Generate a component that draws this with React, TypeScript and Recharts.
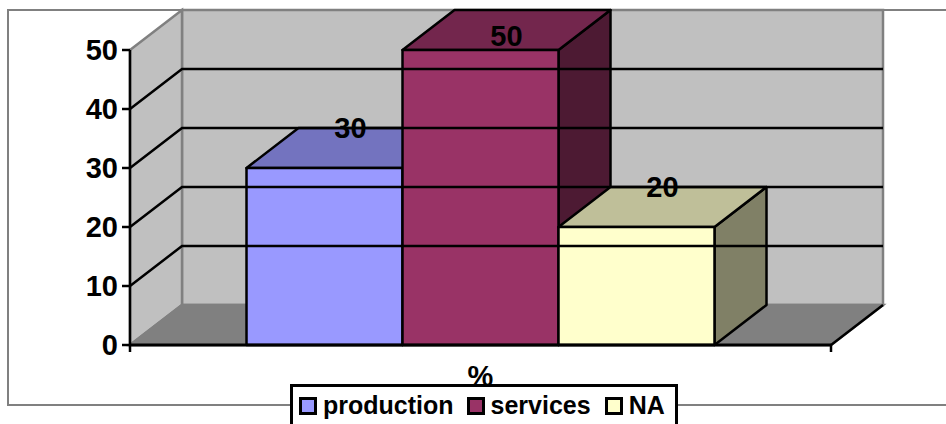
import React from "react";
import { Bar, BarChart, LabelList, Legend, ReferenceArea, ReferenceLine, XAxis, YAxis } from "recharts";

// Column chart with an oblique box projection, as office charts draw it.
const categories = ["%"];
const seriesNames = ["production", "services", "NA"];
const seriesValues = [30, 50, 20];
const seriesFronts = ["#9999ff", "#993366", "#ffffcc"];
const seriesTops = ["#7373bf", "#73264d", "#bfbf99"];
const seriesSides = ["#4d4d80", "#4d1a33", "#808066"];
const yTicks = [0, 10, 20, 30, 40, 50];
const innerGridValues = [10, 20, 30, 40];
const legendGaps = [13, 14, 0];

const DEPTH_X = 52;
const DEPTH_Y = -40;
const LABEL_MIN_Y = 36;
const AXIS_END_TICK = 7;
const FONT = "'Liberation Sans', Arial, sans-serif";
const WALL = "#c0c0c0";
const FLOOR = "#808080";
const EDGE = "#808080";

const rows = categories.map((name) => {
  const row: Record<string, string | number> = { name };
  seriesNames.forEach((s, i) => {
    row[s] = seriesValues[i];
  });
  return row;
});

const poly = (pts: number[][]) => pts.map((p) => p.join(",")).join(" ");

// Back wall, side wall and floor, spanned from the plot rectangle.
function Walls({ x, y, width, height }: any) {
  const l = x, r = x + width, t = y, b = y + height;
  const dx = DEPTH_X, dy = DEPTH_Y;
  return (
    <g>
      <polygon points={poly([[l + dx, t + dy], [r + dx, t + dy], [r + dx, b + dy], [l + dx, b + dy]])} fill={WALL} stroke={EDGE} strokeWidth={2.5} />
      <polygon points={poly([[l, t], [l + dx, t + dy], [l + dx, b + dy], [l, b]])} fill={WALL} stroke={EDGE} strokeWidth={2.5} />
      <polygon points={poly([[l, b], [l + dx, b + dy], [r + dx, b + dy], [r, b]])} fill={FLOOR} stroke={EDGE} strokeWidth={2.5} />
      <line x1={r} y1={b} x2={r + dx} y2={b + dy} stroke="#000" strokeWidth={2.5} />
      <line x1={l} y1={b} x2={l} y2={b + AXIS_END_TICK} stroke="#000" strokeWidth={2.5} />
      <line x1={r} y1={b} x2={r} y2={b + AXIS_END_TICK} stroke="#000" strokeWidth={2.5} />
    </g>
  );
}

// One gridline running along the side wall and across the back wall.
function GridRun({ x1, y1, x2, y2 }: any) {
  return (
    <polyline
      points={poly([[x1, y1], [x1 + DEPTH_X, y1 + DEPTH_Y], [x2 + DEPTH_X, y2 + DEPTH_Y]])}
      fill="none"
      stroke="#000"
      strokeWidth={2.5}
    />
  );
}

function Column3D({ x, y, width, height, index, seriesIndex }: any) {
  const i = seriesIndex ?? index;
  const dx = DEPTH_X, dy = DEPTH_Y;
  const common = { stroke: "#000", strokeWidth: 2.5, strokeLinejoin: "round" as const };
  return (
    <g>
      <polygon {...common} fill={seriesSides[i]} points={poly([[x + width, y], [x + width + dx, y + dy], [x + width + dx, y + height + dy], [x + width, y + height]])} />
      <polygon {...common} fill={seriesTops[i]} points={poly([[x, y], [x + dx, y + dy], [x + width + dx, y + dy], [x + width, y]])} />
      <rect {...common} x={x} y={y} width={width} height={height} fill={seriesFronts[i]} />
    </g>
  );
}

function ValueLabel({ x, y, width, value }: any) {
  const cy = Math.max(y + DEPTH_Y, LABEL_MIN_Y);
  return (
    <text
      x={x + width / 2 + DEPTH_X / 2}
      y={cy}
      dy="0.36em"
      textAnchor="middle"
      fontFamily={FONT}
      fontWeight={700}
      fontSize={29}
      fill="#000"
    >
      {value}
    </text>
  );
}

function LegendBox() {
  return (
    <div
      style={{
        position: "absolute",
        left: 290,
        top: 384,
        width: 388,
        height: 46,
        boxSizing: "border-box",
        border: "3px solid #000",
        background: "#fff",
        display: "flex",
        alignItems: "flex-start",
        fontFamily: FONT,
        fontWeight: 700,
        fontSize: 25,
        lineHeight: "37px",
        color: "#000",
        paddingLeft: 6,
      }}
    >
      {seriesNames.map((name, i) => (
        <span key={name} style={{ display: "inline-flex", alignItems: "center", marginRight: legendGaps[i] }}>
          <span
            style={{
              width: 18,
              height: 18,
              boxSizing: "border-box",
              border: "3px solid #000",
              background: seriesFronts[i],
              marginRight: 6,
            }}
          />
          {name}
        </span>
      ))}
    </div>
  );
}

export default function App() {
  return (
    <div style={{ position: "absolute", left: 0, top: 0, width: 946, height: 424, overflow: "hidden", background: "#fff" }}>
      <div style={{ position: "absolute", left: 7, top: 9, width: 960, height: 397, border: "2.5px solid #808080", boxSizing: "border-box" }} />
      <BarChart
        width={946}
        height={424}
        data={rows}
        margin={{ top: 50, right: 115, bottom: 0, left: 70 }}
        barCategoryGap={116.5}
        barGap={0}
        style={{ position: "absolute", left: 0, top: 0 }}
      >
        <ReferenceArea x1="%" x2="%" y1={0} y2={50} shape={<Walls />} ifOverflow="visible" />
        {innerGridValues.map((v) => (
          <ReferenceLine key={v} y={v} shape={<GridRun />} ifOverflow="visible" />
        ))}
        <XAxis
          dataKey="name"
          height={79}
          axisLine={{ stroke: "#000", strokeWidth: 3 }}
          tickLine={false}
          tick={{ fontFamily: FONT, fontWeight: 700, fontSize: 29, fill: "#000" }}
          tickMargin={14}
        />
        <YAxis
          width={60}
          domain={[0, 50]}
          ticks={yTicks}
          interval={0}
          axisLine={{ stroke: "#000", strokeWidth: 2.5 }}
          tickLine={{ stroke: "#000", strokeWidth: 2.5 }}
          tickSize={8}
          tickMargin={4}
          tick={{ fontFamily: FONT, fontWeight: 700, fontSize: 29, fill: "#000" }}
        />
        <Legend content={<LegendBox />} wrapperStyle={{ position: "absolute", left: 0, top: 0, width: 0, height: 0 }} />
        {seriesNames.map((s, i) => (
          <Bar key={s} dataKey={s} isAnimationActive={false} shape={(p: any) => <Column3D {...p} seriesIndex={i} />}>
            <LabelList dataKey={s} content={<ValueLabel />} />
          </Bar>
        ))}
      </BarChart>
    </div>
  );
}
